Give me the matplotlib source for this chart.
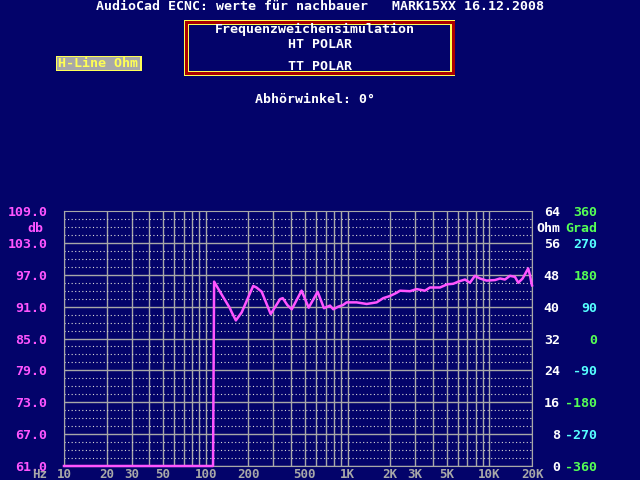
import matplotlib
matplotlib.use('Agg')
import matplotlib.pyplot as plt
from matplotlib.patches import Rectangle
from matplotlib.ticker import NullLocator
import numpy as np

# colours of the old DOS screen
BG = '#03036a'
GRAY = '#a8a8a8'
MAGENTA = '#ff55ff'
GREEN = '#55ff55'
CYAN = '#55ffff'
YELLOW = '#ffff55'
RED = '#aa0000'

FONT = dict(family='DejaVu Sans Mono', weight='bold', size=9.5)
SMALL = dict(family='DejaVu Sans Mono', weight='bold', size=9)

# frequency response (Hz, dB)
freq = [10, 112.5, 113, 114.5, 126, 148, 152, 163, 179, 216, 228, 248, 287,
        334, 349, 376, 404, 474, 532, 615, 682, 752, 793, 860, 928, 985,
        1159, 1364, 1439, 1604, 1786, 1991, 2218, 2343, 2755, 3071, 3514,
        3811, 4484, 5049, 5563, 6034, 6730, 7297, 7913, 8583, 9572, 10960,
        11890, 12890, 13980, 15160, 16000, 17180, 18800, 19320, 19870, 20000]
spl = [61, 61, 70, 95.7, 93.8, 90.7, 90.0, 88.4, 89.9, 94.9, 94.6, 93.8, 89.6,
       92.4, 92.6, 91.3, 90.5, 94.0, 90.8, 93.8, 90.7, 91.2, 90.5, 91.0, 91.3, 91.8,
       91.8, 91.5, 91.6, 91.8, 92.6, 93.0, 93.6, 94.0, 93.9, 94.3, 94.0,
       94.6, 94.6, 95.2, 95.3, 95.7, 96.1, 95.5, 96.8, 96.3, 95.9, 96.0,
       96.3, 96.1, 96.8, 96.6, 95.5, 96.3, 98.2, 97.0, 95.3, 95.0]

x_label_freqs = [10, 20, 30, 50, 100, 200, 500, 1000, 2000, 3000, 5000, 10000, 20000]
x_labels = ['10', '20', '30', '50', '100', '200', '500', '1K', '2K', '3K', '5K', '10K', '20K']
db_ticks = [61, 67, 73, 79, 85, 91, 97, 103, 109]
ohm_ticks = [0, 8, 16, 24, 32, 40, 48, 56, 64]
deg_ticks = [-360, -270, -180, -90, 0, 90, 180, 270, 360]

W, H = 640, 480


def fx(px):
    return px / W


def fy(py):
    return 1 - py / H


def box(fig, x0, y0, x1, y1, color):
    fig.add_artist(Rectangle((fx(x0), fy(y1)), fx(x1) - fx(x0), fy(y0) - fy(y1),
                             transform=fig.transFigure, facecolor=color,
                             edgecolor='none'))


fig = plt.figure(figsize=(6.4, 4.8), dpi=100, facecolor=BG)
ax = fig.add_axes([fx(64), fy(466), fx(532) - fx(64), fy(211) - fy(466)])
ax.set_facecolor(BG)
ax.set_xscale('log')
ax.set_xlim(10, 20000)
ax.set_ylim(61, 109)

# grid
grid_freqs = [m * 10 ** e for e in range(1, 5) for m in range(1, 10) if m * 10 ** e <= 20000]
for f in grid_freqs:
    ax.axvline(f, color=GRAY, lw=1, zorder=1)
for y in np.arange(61, 109, 1.5):
    if y in db_ticks:
        ax.axhline(y, color=GRAY, lw=1, zorder=1)
    else:
        ax.axhline(y, color='#d8d8d8', lw=0.8, ls=(0, (1, 2.2)), zorder=1)

ax.plot(freq, spl, color=MAGENTA, lw=1.8, zorder=3, clip_on=False)

for s in ax.spines.values():
    s.set_color(GRAY)

ax.xaxis.set_minor_locator(NullLocator())
ax.set_xticks(x_label_freqs, x_labels)
ax.tick_params(axis='x', length=0, pad=1.5, labelcolor=GRAY)
ax.set_yticks(db_ticks, [f'{v:.1f}' for v in db_ticks])
ax.tick_params(axis='y', length=0, pad=12, labelcolor=MAGENTA)
for lbl in ax.get_xticklabels():
    lbl.set_fontproperties(SMALL)
for lbl in ax.get_yticklabels():
    lbl.set_fontproperties(FONT)

# Ohm axis
ax2 = ax.twinx()
ax2.set_ylim(0, 64)
ax2.set_yticks(ohm_ticks, [str(v) for v in ohm_ticks])
ax2.tick_params(axis='y', length=0, pad=20, labelcolor='white')
for lbl in ax2.get_yticklabels():
    lbl.set_fontproperties(FONT)
    lbl.set_horizontalalignment('right')
for s in ax2.spines.values():
    s.set_visible(False)

# phase axis
ax3 = ax.twinx()
ax3.set_ylim(-360, 360)
ax3.set_yticks(deg_ticks, [str(v) for v in deg_ticks])
ax3.tick_params(axis='y', length=0, pad=47)
for i, lbl in enumerate(ax3.get_yticklabels()):
    lbl.set_fontproperties(FONT)
    lbl.set_horizontalalignment('right')
    lbl.set_color(GREEN if i % 2 == 0 else CYAN)
for s in ax3.spines.values():
    s.set_visible(False)

# unit labels
fig.text(fx(35.5), fy(228), 'db', color=MAGENTA, ha='center', va='center', **FONT)
fig.text(fx(548.5), fy(228), 'Ohm', color='white', ha='center', va='center', **FONT)
fig.text(fx(581.5), fy(228), 'Grad', color=GREEN, ha='center', va='center', **FONT)
fig.text(fx(40), fy(475), 'Hz', color=GRAY, ha='center', va='center', **SMALL)

# header
fig.text(fx(319.5), fy(6), 'AudioCad ECNC: werte für nachbauer   MARK15XX 16.12.2008',
         color='white', ha='center', va='center', **FONT)

box(fig, 183.5, 20, 455.5, 75.5, YELLOW)
box(fig, 184.5, 21, 454.5, 74.5, RED)
box(fig, 187.5, 24, 451.5, 71.5, YELLOW)
box(fig, 188.5, 25, 450.5, 70.5, BG)
fig.text(fx(315), fy(29.5), 'Frequenzweichensimulation', color='white',
         ha='center', va='center', **FONT)
fig.text(fx(319.5), fy(44), 'HT POLAR', color='white', ha='center', va='center', **FONT)
fig.text(fx(319.5), fy(67), 'TT POLAR', color='white', ha='center', va='center', **FONT)

box(fig, 55.5, 56, 141.5, 71, YELLOW)
box(fig, 57, 57.5, 140, 69.5, GRAY)
fig.text(fx(98.5), fy(63.5), 'H-Line Ohm', color=YELLOW, ha='center', va='center', **FONT)

fig.text(fx(315), fy(99.5), 'Abhörwinkel: 0°', color='white', ha='center', va='center', **FONT)

fig.savefig('out.png', dpi=100, facecolor=BG)
